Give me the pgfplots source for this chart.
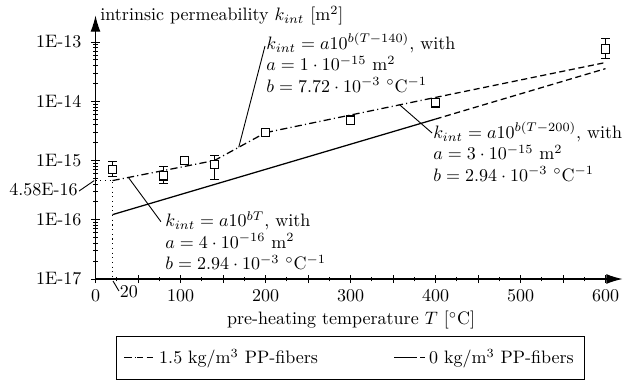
\documentclass[border=0pt]{standalone}
\usepackage{pgfplots}
\pgfplotsset{compat=1.18}
\usetikzlibrary{arrows.meta}
\tikzset{
  dashdotpat/.style={dash pattern=on 4pt off 1.8pt on 0.6pt off 1.8pt},
  dashpat/.style={dash pattern=on 3.4pt off 2pt},
}
\begin{document}
\begin{tikzpicture}
\useasboundingbox (-53.06pt,-56.1pt) rectangle (296.4pt,155pt);
\begin{axis}[
  at={(0,0)}, anchor=south west,
  scale only axis, width=292.8pt, height=146.4pt,
  xmin=0, xmax=620, ymin=1e-17, ymax=2.8e-13,
  ymode=log,
  axis lines=left,
  axis line style={line width=0.6pt, -{Latex[length=9pt,width=5.5pt]}},
  tick align=center,
  major tick length=4.6pt, minor tick length=2.6pt,
  every tick/.style={black, line width=0.5pt},
  xtick={0,50,...,600},
  xticklabels={0,,100,,200,,300,,400,,500,,600},
  minor xtick={25,75,...,575},
  extra x ticks={20}, extra x tick labels={20},
  extra x tick style={major tick length=0pt, xticklabel style={anchor=north west, xshift=0.5pt}},
  ytick={1e-17,1e-16,1e-15,1e-14,1e-13},
  yticklabels={1E-17,1E-16,1E-15,1E-14,1E-13},
  minor ytick={2e-17,3e-17,4e-17,5e-17,6e-17,7e-17,8e-17,9e-17,
               2e-16,3e-16,4e-16,5e-16,6e-16,7e-16,8e-16,9e-16,
               2e-15,3e-15,4e-15,5e-15,6e-15,7e-15,8e-15,9e-15,
               2e-14,3e-14,4e-14,5e-14,6e-14,7e-14,8e-14,9e-14,
               2e-13},
  yticklabel style={xshift=-2pt},
  xlabel={pre-heating temperature $T$ [$^\circ$C]},
  ylabel={intrinsic permeability $k_{int}$ [m$^2$]},
  every axis x label/.style={at={(axis description cs:0.485,0)}, anchor=north, yshift=-14.5pt},
  every axis y label/.style={at={(axis description cs:0,1)}, anchor=west, xshift=-0.8pt},
  clip=false,
  legend columns=2,
  legend cell align=left,
  legend style={at={(axis description cs:0.484,0)}, anchor=north, yshift=-31.7pt,
    draw=black, line width=0.5pt, inner xsep=4pt, inner ysep=5pt,
    /tikz/every even column/.append style={column sep=40pt}},
]
\addplot[black, line width=0.7pt, dashdotpat,
  legend image code/.code={\draw[black,line width=0.7pt,dashdotpat](0pt,0pt)--(7pt,0pt);
    \draw[black,line width=0.7pt,dashpat](7pt,0pt)--(17pt,0pt);}]
  coordinates {(20,4.58e-16) (140,1.0e-15) (200,2.95e-15) (400,1.16e-14)};
\addlegendentry{1.5 kg/m$^3$ PP-fibers}
\addplot[black, line width=0.7pt,
  legend image code/.code={\draw[black,line width=0.7pt](0pt,0pt)--(9pt,0pt);
    \draw[black,line width=0.7pt,dashpat](9pt,0pt)--(17pt,0pt);}]
  coordinates {(20,1.22e-16) (400,5.0e-15)};
\addlegendentry{0 kg/m$^3$ PP-fibers}
\addplot[forget plot, black, line width=0.7pt, dashpat]
  coordinates {(400,1.16e-14) (600,4.5e-14)};
\addplot[forget plot, black, line width=0.7pt, dashpat]
  coordinates {(400,5.0e-15) (600,3.55e-14)};
% measured data with error bars
\addplot[forget plot, only marks, mark=square*,
  mark options={fill=white, draw=black, line width=0.6pt}, mark size=2.3pt,
  error bars/.cd, y dir=both, y explicit,
  error bar style={line width=0.6pt, black},
  error mark options={rotate=90, mark size=2.3pt, line width=0.6pt, black}]
  coordinates {
  (20,7.1e-16) += (0,2.5e-16) -= (0,1.8e-16)
  (80,5.5e-16) += (0,2.35e-16) -= (0,1.4e-16)
  (140,8.6e-16) += (0,3.4e-16) -= (0,3.9e-16)
  (600,7.6e-14) += (0,4.0e-14) -= (0,2.3e-14)
  };
\addplot[forget plot, only marks, mark=square*,
  mark options={fill=white, draw=black, line width=0.6pt}, mark size=2.3pt]
  coordinates {(105,9.9e-16) (200,3.0e-15) (300,4.8e-15) (400,9.4e-15)};
% annotations
\draw[dotted, line width=0.6pt] (axis cs:0,4.58e-16) -- (axis cs:20,4.58e-16) -- (axis cs:20,1e-17);
\node[anchor=east, inner sep=0pt] at (axis cs:-20.6,3.18e-16) {4.58E-16};
\draw[line width=0.5pt] (axis cs:-19.4,3.05e-16) -- (axis cs:-1.5,4.58e-16);
\draw[line width=0.5pt] (axis cs:20.6,9.25e-18) -- (axis cs:27.6,6.27e-18);
\draw[line width=0.5pt] (axis cs:168.5,1.67e-15) -- (axis cs:199.4,8.55e-14);
\node[anchor=north west, inner sep=0pt, align=left] at (axis cs:200.6,1.42e-13)
  {$k_{int}=a10^{b(T-140)}$, with\\ $a=1\cdot10^{-15}$ m$^2$\\ $b=7.72\cdot10^{-3}$ $^\circ$C$^{-1}$};
\draw[line width=0.5pt] (axis cs:358,8.65e-15) -- (axis cs:395.9,2.91e-15);
\node[anchor=north west, inner sep=0pt, align=left] at (axis cs:397,4.47e-15)
  {$k_{int}=a10^{b(T-200)}$, with\\ $a=3\cdot10^{-15}$ m$^2$\\ $b=2.94\cdot10^{-3}$ $^\circ$C$^{-1}$};
\draw[line width=0.5pt] (axis cs:38.6,5.2e-16) -- (axis cs:77,9.27e-17);
\node[anchor=north west, inner sep=0pt, align=left] at (axis cs:81.8,1.41e-16)
  {$k_{int}=a10^{bT}$, with\\ $a=4\cdot10^{-16}$ m$^2$\\ $b=2.94\cdot10^{-3}$ $^\circ$C$^{-1}$};
\end{axis}
\end{tikzpicture}
\end{document}
